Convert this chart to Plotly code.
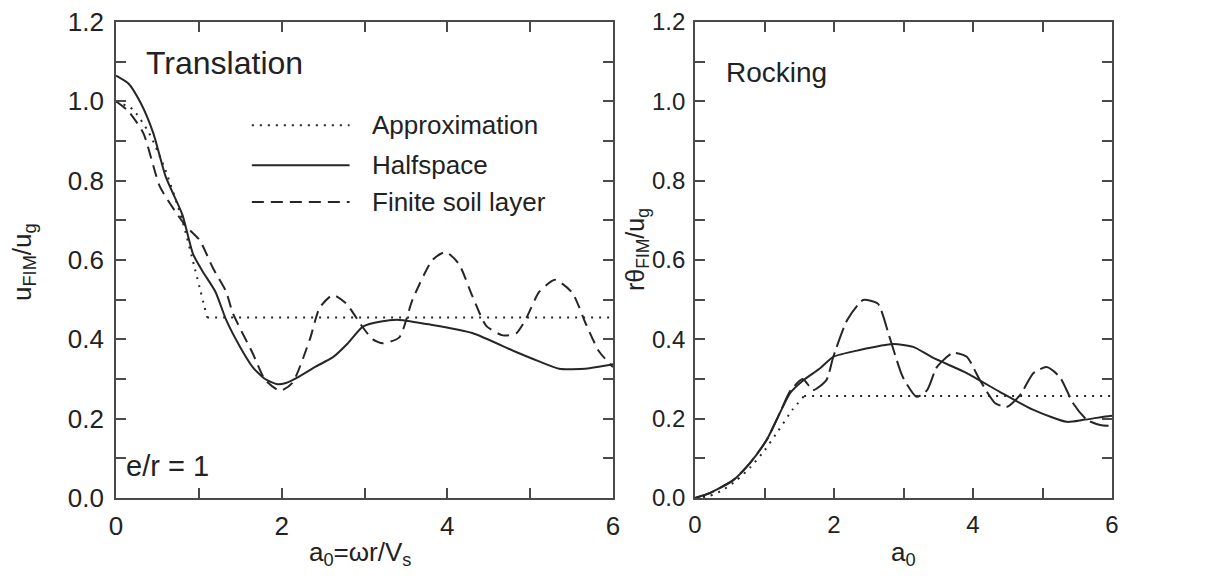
import plotly.graph_objects as go

# ---------------- data ----------------
# Left panel: Translation
trans_approx_x = [0, 0.2, 0.4, 0.6, 0.8, 0.95, 1.1, 6.0]
trans_approx_y = [1.0, 0.98, 0.92, 0.825, 0.70, 0.58, 0.455, 0.455]

trans_half_x = [0, 0.15, 0.3, 0.45, 0.6, 0.8, 0.93, 1.05, 1.2, 1.33, 1.5, 1.65, 1.8, 1.95,
                2.05, 2.2, 2.4, 2.62, 2.8, 2.98, 3.2, 3.42, 3.8, 4.3, 4.83, 5.1, 5.35, 5.67, 6.0]
trans_half_y = [1.065, 1.045, 0.995, 0.92, 0.81, 0.715, 0.615, 0.57, 0.52, 0.449, 0.38, 0.33,
                0.30, 0.287, 0.29, 0.305, 0.33, 0.355, 0.39, 0.432, 0.445, 0.449, 0.437, 0.416,
                0.368, 0.345, 0.326, 0.326, 0.337]

trans_finite_x = [0, 0.15, 0.33, 0.53, 0.73, 0.85, 1.01, 1.17, 1.33, 1.41, 1.65, 1.8, 1.98,
                  2.13, 2.34, 2.46, 2.62, 2.78, 2.98, 3.1, 3.22, 3.42, 3.58, 3.82, 3.98, 4.14,
                  4.3, 4.47, 4.67, 4.83, 4.95, 5.11, 5.3, 5.51, 5.67, 5.83, 6.0]
trans_finite_y = [1.0, 0.975, 0.92, 0.785, 0.718, 0.684, 0.65, 0.58, 0.52, 0.466, 0.365,
                  0.298, 0.27, 0.29, 0.40, 0.48, 0.512, 0.49, 0.43, 0.40, 0.39, 0.405, 0.5,
                  0.60, 0.62, 0.59, 0.51, 0.434, 0.41, 0.415, 0.452, 0.52, 0.55, 0.517, 0.44,
                  0.37, 0.33]

# Right panel: Rocking
rock_approx_x = [0, 0.2, 0.4, 0.6, 0.8, 1.0, 1.2, 1.4, 1.57, 6.0]
rock_approx_y = [0, 0.005, 0.02, 0.045, 0.078, 0.12, 0.17, 0.222, 0.257, 0.257]

rock_half_x = [0, 0.22, 0.55, 0.79, 1.03, 1.22, 1.37, 1.56, 1.8, 1.99, 2.37, 2.85, 3.14,
               3.43, 3.91, 4.39, 4.87, 5.35, 5.59, 5.97, 6.0]
rock_half_y = [0, 0.013, 0.045, 0.088, 0.146, 0.214, 0.265, 0.297, 0.327, 0.356, 0.373,
               0.388, 0.381, 0.353, 0.315, 0.267, 0.222, 0.192, 0.197, 0.207, 0.207]

rock_finite_x = [0, 0.22, 0.55, 0.79, 1.03, 1.22, 1.37, 1.55, 1.7, 1.89, 1.99, 2.19, 2.42,
                 2.63, 2.8, 2.99, 3.19, 3.34, 3.48, 3.71, 3.91, 4.1, 4.32, 4.49, 4.68, 4.87,
                 5.06, 5.25, 5.44, 5.64, 5.83, 5.95]
rock_finite_y = [0, 0.013, 0.045, 0.088, 0.146, 0.214, 0.27, 0.30, 0.272, 0.297, 0.356,
                 0.449, 0.499, 0.49, 0.405, 0.305, 0.255, 0.272, 0.33, 0.366, 0.356, 0.297,
                 0.239, 0.23, 0.26, 0.315, 0.33, 0.305, 0.239, 0.197, 0.184, 0.182]

legend_labels = ["Approximation", "Halfspace", "Finite soil layer"]

x_tickvals = [0, 2, 4, 6]
x_minorvals = [1, 3, 5]
y_tickvals = [0.0, 0.2, 0.4, 0.6, 0.8, 1.0, 1.2]
y_ticktext = ["0.0", "0.2", "0.4", "0.6", "0.8", "1.0", "1.2"]
y_minorvals = [0.1, 0.3, 0.5, 0.7, 0.9, 1.1]

# ---------------- geometry helpers (page has an 8px body margin) ----------------
W, H, OFF = 1216, 570, 8


def px(x):
    return (x - OFF) / W


def py(y):
    return 1 - (y - OFF) / H


# ---------------- styling ----------------
FONT = "Arial, Liberation Sans, sans-serif"
LINE = "#262626"
AX = "#4a4a4a"
TXT = "#222222"
DOT = "2px,6px"
DASH_L = "12px,7px"
DASH_R = "20px,6px"
LW = 2

fig = go.Figure()


def add(x, y, dash, xa, ya):
    fig.add_trace(go.Scatter(x=x, y=y, mode="lines", xaxis=xa, yaxis=ya,
                             line=dict(color=LINE, width=LW, dash=dash, shape="spline",
                                       smoothing=0.6),
                             showlegend=False, hoverinfo="skip"))


def add_lin(x, y, dash, xa, ya):
    fig.add_trace(go.Scatter(x=x, y=y, mode="lines", xaxis=xa, yaxis=ya,
                             line=dict(color=LINE, width=LW, dash=dash),
                             showlegend=False, hoverinfo="skip"))


add(trans_approx_x[:-1], trans_approx_y[:-1], DOT, "x", "y")
add_lin(trans_approx_x[-2:], trans_approx_y[-2:], DOT, "x", "y")
add(trans_half_x, trans_half_y, "solid", "x", "y")
add(trans_finite_x, trans_finite_y, DASH_L, "x", "y")

add(rock_approx_x[:-1], rock_approx_y[:-1], DOT, "x2", "y2")
add_lin(rock_approx_x[-2:], rock_approx_y[-2:], DOT, "x2", "y2")
add(rock_half_x, rock_half_y, "solid", "x2", "y2")
add(rock_finite_x, rock_finite_y, DASH_R, "x2", "y2")


def axis_common(size):
    return dict(showline=True, linewidth=1.6, linecolor=AX, mirror="ticks",
                ticks="inside", ticklen=10, tickwidth=1.5, tickcolor=AX,
                showgrid=False, zeroline=False, automargin=False,
                ticklabeloverflow="allow",
                tickfont=dict(family=FONT, size=size, color=TXT))


minor_common = dict(ticks="inside", ticklen=10, tickwidth=1.5, tickcolor=AX, showgrid=False)


def make_x(size):
    return dict(range=[0, 6], tickmode="array", tickvals=x_tickvals,
                ticktext=[str(v) for v in x_tickvals], ticklabelstandoff=4,
                minor=dict(tickmode="array", tickvals=x_minorvals, **minor_common),
                **axis_common(size))


def make_y(size, standoff):
    return dict(range=[0, 1.2], tickmode="array", tickvals=y_tickvals, ticktext=y_ticktext,
                ticklabelstandoff=standoff,
                minor=dict(tickmode="array", tickvals=y_minorvals, **minor_common),
                **axis_common(size))


fig.update_layout(
    template="none",
    width=W, height=H,
    margin=dict(l=0, r=0, t=0, b=0, pad=0),
    showlegend=False,
    paper_bgcolor="white", plot_bgcolor="white",
    xaxis=dict(domain=[px(116), px(613)], anchor="y", **make_x(26)),
    yaxis=dict(domain=[py(498), py(22)], anchor="x", **make_y(26, 5)),
    xaxis2=dict(domain=[px(695), px(1112)], anchor="y2", **make_x(24)),
    yaxis2=dict(domain=[py(498), py(22)], anchor="x2", **make_y(24, 3)),
)

ann = []
# panel labels
ann.append(dict(text="Translation", x=0.34, y=1.097, xref="x", yref="y", xanchor="left",
                yanchor="middle", showarrow=False, font=dict(family=FONT, size=32, color=TXT)))
ann.append(dict(text="Rocking", x=0.42, y=1.072, xref="x2", yref="y2", xanchor="left",
                yanchor="middle", showarrow=False, font=dict(family=FONT, size=28, color=TXT)))
ann.append(dict(text="e/r = 1", x=0.1, y=0.08, xref="x", yref="y", xanchor="left",
                yanchor="middle", showarrow=False, font=dict(family=FONT, size=29, color=TXT)))

# legend (manual)
leg_y = [0.94, 0.839, 0.746]
leg_dash_css = [DOT, "solid", DASH_L]
for lab, ly, dsh in zip(legend_labels, leg_y, leg_dash_css):
    fig.add_shape(type="line", xref="x", yref="y", x0=1.64, x1=2.82, y0=ly, y1=ly,
                  line=dict(color=LINE, width=LW, dash=dsh))
    ann.append(dict(text=lab, x=3.07, y=ly, xref="x", yref="y", xanchor="left",
                    yanchor="middle", showarrow=False,
                    font=dict(family=FONT, size=26, color=TXT)))

# axis titles
ann.append(dict(text="u<sub>FIM</sub>/u<sub>g</sub>", x=px(23), y=py(262),
                xref="paper", yref="paper", textangle=-90, showarrow=False,
                xanchor="center", yanchor="middle", font=dict(family=FONT, size=26, color=TXT)))
ann.append(dict(text="rθ<sub>FIM</sub>/u<sub>g</sub>", x=px(637), y=py(250),
                xref="paper", yref="paper", textangle=-90, showarrow=False,
                xanchor="center", yanchor="middle", font=dict(family=FONT, size=25, color=TXT)))
ann.append(dict(text="a<sub>0</sub>=ωr/V<sub>s</sub>", x=px(360), y=py(553),
                xref="paper", yref="paper", showarrow=False,
                xanchor="center", yanchor="middle", font=dict(family=FONT, size=26, color=TXT)))
ann.append(dict(text="a<sub>0</sub>", x=px(903), y=py(553),
                xref="paper", yref="paper", showarrow=False,
                xanchor="center", yanchor="middle", font=dict(family=FONT, size=26, color=TXT)))

fig.update_layout(annotations=ann)

fig.write_html("out.html")
